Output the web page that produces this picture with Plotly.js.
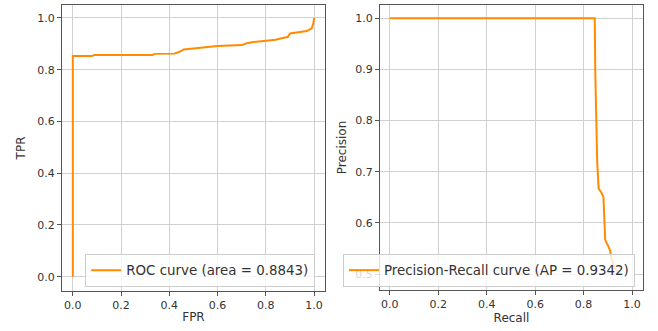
<!DOCTYPE html>
<html>
<head>
<meta charset="utf-8">
<script src="https://cdn.plot.ly/plotly-3.0.1.min.js"></script>
<style>html,body{margin:0;padding:0;background:#fff;}#chart{width:658px;height:331px;}</style>
</head>
<body>
<div id="chart"></div>
<script>
// ROC curve data
const rocFpr = [0, 0, 0.08, 0.09, 0.33, 0.34, 0.42, 0.44, 0.46, 0.5, 0.6, 0.7, 0.72, 0.75, 0.8, 0.84, 0.87, 0.89, 0.9, 0.93, 0.97, 0.99, 0.997, 1.0];
const rocTpr = [0, 0.853, 0.853, 0.857, 0.857, 0.861, 0.862, 0.868, 0.878, 0.882, 0.891, 0.895, 0.902, 0.907, 0.912, 0.916, 0.922, 0.926, 0.94, 0.943, 0.949, 0.96, 0.98, 1.0];
const rocLabel = "ROC curve (area = 0.8843)";

// Precision-Recall curve data
const prRecall = [0, 0.846, 0.848, 0.852, 0.856, 0.862, 0.875, 0.882, 0.886, 0.889, 0.9, 0.909, 0.916, 0.93, 0.95];
const prPrecision = [1.0, 1.0, 0.9, 0.8, 0.72, 0.667, 0.658, 0.65, 0.6, 0.567, 0.556, 0.547, 0.528, 0.51, 0.5];
const prLabel = "Precision-Recall curve (AP = 0.9342)";

const xTicks = [0, 0.2, 0.4, 0.6, 0.8, 1.0];
const rocYTicks = [0, 0.2, 0.4, 0.6, 0.8, 1.0];
const prYTicks = [0.5, 0.6, 0.7, 0.8, 0.9, 1.0];

const orange = "#ff8c00";
const font = {family: "DejaVu Sans", size: 11, color: "#333"};
const titleFont = {family: "DejaVu Sans", size: 12, color: "#333"};
const legendFont = {family: "DejaVu Sans", size: 13.4, color: "#333"};

const traces = [
  {x: rocFpr, y: rocTpr, type: "scatter", mode: "lines", name: rocLabel,
   line: {color: orange, width: 2}, xaxis: "x", yaxis: "y", legend: "legend"},
  {x: prRecall, y: prPrecision, type: "scatter", mode: "lines", name: prLabel,
   line: {color: orange, width: 2}, xaxis: "x2", yaxis: "y2", legend: "legend2"}
];

function ax(extra) {
  return Object.assign({
    showline: true, mirror: true, linecolor: "#555", linewidth: 1,
    ticks: "outside", ticklen: 4, tickcolor: "#555",
    showgrid: true, gridcolor: "#d0d0d0", gridwidth: 1,
    zeroline: false, tickformat: ".1f", tickfont: font
  }, extra);
}

const layout = {
  width: 658, height: 331,
  margin: {l: 0, r: 0, t: 0, b: 0},
  paper_bgcolor: "#fff", plot_bgcolor: "#fff",
  font: font,
  showlegend: true,
  xaxis: ax({domain: [0.0942, 0.4939], range: [-0.045, 1.045], tickvals: xTicks,
    title: {text: "FPR", font: titleFont, standoff: 1}, anchor: "y"}),
  yaxis: ax({domain: [0.121, 0.985], range: [-0.055, 1.05], tickvals: rocYTicks,
    title: {text: "TPR", font: titleFont, standoff: 9}, anchor: "x"}),
  xaxis2: ax({domain: [0.5775, 0.9772], range: [-0.04, 1.045], tickvals: xTicks,
    title: {text: "Recall", font: titleFont, standoff: 1}, anchor: "y2"}),
  yaxis2: ax({domain: [0.124, 0.985], range: [0.469, 1.026], tickvals: prYTicks,
    title: {text: "Precision", font: titleFont, standoff: 6}, anchor: "x2"}),
  legend: {x: 0.479, y: 0.183, xanchor: "right", yanchor: "middle",
    bgcolor: "rgba(255,255,255,0.8)", bordercolor: "#ccc", borderwidth: 1,
    font: legendFont, tracegroupgap: 0},
  legend2: {x: 0.965, y: 0.183, xanchor: "right", yanchor: "middle",
    bgcolor: "rgba(255,255,255,0.8)", bordercolor: "#ccc", borderwidth: 1,
    font: legendFont, tracegroupgap: 0}
};

Plotly.newPlot("chart", traces, layout, {staticPlot: true, displayModeBar: false});
</script>
</body>
</html>
